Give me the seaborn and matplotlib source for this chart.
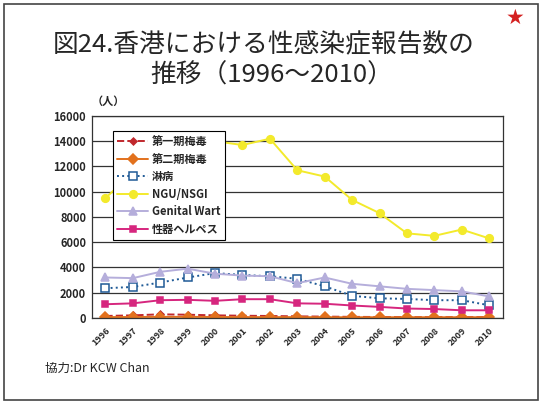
import numpy as np
import pandas as pd
import matplotlib
matplotlib.use('Agg')
import matplotlib.pyplot as plt
import seaborn as sns
from matplotlib.patches import Rectangle

years = [str(y) for y in range(1996, 2011)]

syphilis_1 = [150, 200, 280, 250, 200, 170, 150, 120, 100, 80, 70, 60, 60, 60, 60]
syphilis_2 = [60, 70, 80, 80, 70, 60, 60, 60, 50, 50, 50, 50, 50, 50, 50]
gonorrhea = [2350, 2450, 2800, 3200, 3550, 3400, 3300, 3100, 2500, 1750, 1550, 1500, 1400, 1400, 1000]
ngu_nsgi = [9500, 11500, 13000, 14000, 14000, 13700, 14200, 11700, 11200, 9350, 8300, 6700, 6500, 7000, 6300]
genital_wart = [3200, 3150, 3650, 3900, 3500, 3350, 3300, 2750, 3200, 2700, 2500, 2300, 2200, 2100, 1700]
herpes = [1080, 1150, 1400, 1430, 1350, 1480, 1480, 1150, 1120, 980, 870, 740, 700, 600, 600]

series_names = ['第一期梅毒', '第二期梅毒', '淋病', 'NGU/NSGI', 'Genital Wart', '性器ヘルペス']
series_values = [syphilis_1, syphilis_2, gonorrhea, ngu_nsgi, genital_wart, herpes]
colors = ['#C0282D', '#E2711D', '#1F5A96', '#F3EA2C', '#B5AEDB', '#D6267E']
markers = ['D', 'D', 's', 'o', '^', 's']
linestyles = ['--', '-', ':', '-', '-', '-']
msizes = [3.5, 5, 6, 5.5, 5.5, 5]

sns.set_style('white')
plt.rcParams['font.family'] = ['Noto Sans CJK JP', 'DejaVu Sans']

fig = plt.figure(figsize=(5.43, 4.07), dpi=100)
ax = fig.add_axes([0.169, 0.219, 0.757, 0.496])

x = np.arange(len(years))
for name, vals, c, m, ls, ms in zip(series_names, series_values, colors, markers, linestyles, msizes):
    df = pd.DataFrame({'x': x, 'v': vals})
    face = 'white' if name == '淋病' else c
    sns.lineplot(data=df, x='x', y='v', ax=ax, color=c, marker=m, linestyle=ls,
                 markersize=ms, markerfacecolor=face, markeredgecolor=c,
                 markeredgewidth=1.1, linewidth=1.4, label=name)

ax.set_xlim(-0.5, 14.5)
ax.set_ylim(0, 16000)
ax.set_yticks(range(0, 16001, 2000))
ax.set_yticklabels([str(v) for v in range(0, 16001, 2000)], fontsize=8, fontweight='bold')
ax.set_xticks(x)
ax.set_xticklabels(years, rotation=45, fontsize=6.5, fontweight='bold', ha='right', rotation_mode='anchor')
ax.tick_params(axis='x', length=3, direction='in', pad=6)
ax.tick_params(axis='y', length=0, pad=4)
ax.set_xlabel('')
ax.set_ylabel('')
ax.grid(axis='y', color='#333333', linewidth=0.9)
ax.set_axisbelow(True)
for s in ax.spines.values():
    s.set_color('#333333')
    s.set_linewidth(0.9)

leg = ax.legend(loc='upper left', bbox_to_anchor=(0.051, 0.926), frameon=True,
                fancybox=False, framealpha=1, edgecolor='black', handlelength=2.8,
                prop={'size': 8, 'weight': 'bold'}, borderpad=0.4, labelspacing=0.4,
                handletextpad=0.3, borderaxespad=0)
leg.get_frame().set_linewidth(0.8)
leg.set_zorder(10)

fig.text(0.485, 0.89, '図24.香港における性感染症報告数の', ha='center', va='center', fontsize=18.5)
fig.text(0.5, 0.815, '推移（1996～2010）', ha='center', va='center', fontsize=18.5)
fig.text(0.948, 0.957, '★', ha='center', va='center', fontsize=15, color='#D42020',
         family=['DejaVu Sans'])
fig.text(0.2, 0.752, '（人）', ha='center', va='center', fontsize=8, fontweight='bold')
fig.text(0.083, 0.096, '協力:Dr KCW Chan', ha='left', va='center', fontsize=9)

fig.patches.append(Rectangle((0.008, 0.018), 0.982, 0.972, transform=fig.transFigure,
                             fill=False, edgecolor='#444444', linewidth=1.2))

fig.savefig('out.png', dpi=100)
